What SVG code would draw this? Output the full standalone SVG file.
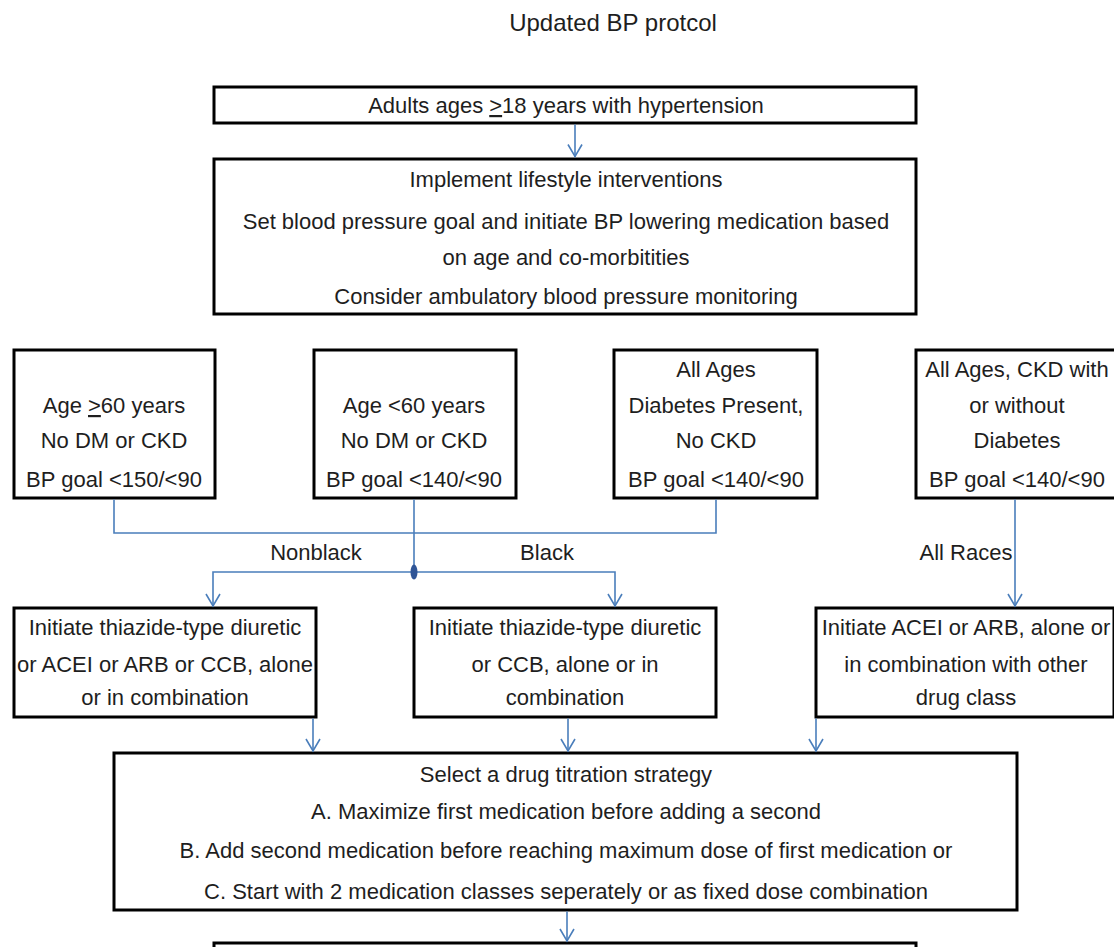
<svg xmlns="http://www.w3.org/2000/svg" width="1114" height="947" viewBox="0 0 1114 947">
<defs>
<marker id="arr" markerUnits="userSpaceOnUse" markerWidth="16" markerHeight="16" viewBox="0 0 16 16" refX="14.5" refY="8" orient="auto">
<path d="M2,1 L14,8 L2,15" fill="none" stroke="#4a7ebb" stroke-width="1.6"/>
</marker>
<style>
.box{fill:#fff;stroke:#000;stroke-width:3}
.t{font-family:"Liberation Sans",Arial,sans-serif;font-size:22px;fill:#1e1e1e;text-anchor:middle}
.title{font-size:24px}
.c{fill:none;stroke:#4a7ebb;stroke-width:1.6}
.a{marker-end:url(#arr)}
.u{text-decoration:underline}
</style>
</defs>
<rect width="1114" height="947" fill="#fff"/>
<text class="t title" x="613" y="31">Updated BP protcol</text>

<g id="n1"><rect class="box" x="214" y="87" width="702" height="36"/>
<text class="t" x="566" y="113">Adults ages <tspan class="u">&gt;</tspan>18 years with hypertension</text></g>

<g id="n2"><rect class="box" x="214" y="159" width="702" height="155"/>
<text class="t" x="566" y="187">Implement lifestyle interventions</text>
<text class="t" x="566" y="229">Set blood pressure goal and initiate BP lowering medication based</text>
<text class="t" x="566" y="265">on age and co-morbitities</text>
<text class="t" x="566" y="304">Consider ambulatory blood pressure monitoring</text></g>

<g id="n3"><rect class="box" x="14" y="350" width="201" height="148"/>
<text class="t" x="114" y="413">Age <tspan class="u">&gt;</tspan>60 years</text>
<text class="t" x="114" y="448">No DM or CKD</text>
<text class="t" x="114" y="487">BP goal &lt;150/&lt;90</text></g>

<g id="n4"><rect class="box" x="314" y="350" width="202" height="148"/>
<text class="t" x="414" y="413">Age &lt;60 years</text>
<text class="t" x="414" y="448">No DM or CKD</text>
<text class="t" x="414" y="487">BP goal &lt;140/&lt;90</text></g>

<g id="n5"><rect class="box" x="614" y="350" width="203" height="148"/>
<text class="t" x="716" y="377">All Ages</text>
<text class="t" x="716" y="413">Diabetes Present,</text>
<text class="t" x="716" y="448">No CKD</text>
<text class="t" x="716" y="487">BP goal &lt;140/&lt;90</text></g>

<g id="n6"><rect class="box" x="916" y="350" width="204" height="148"/>
<text class="t" x="1017" y="377">All Ages, CKD with</text>
<text class="t" x="1017" y="413">or without</text>
<text class="t" x="1017" y="448">Diabetes</text>
<text class="t" x="1017" y="487">BP goal &lt;140/&lt;90</text></g>

<g id="n7"><rect class="box" x="14" y="608" width="302" height="109"/>
<text class="t" x="165" y="635">Initiate thiazide-type diuretic</text>
<text class="t" x="165" y="672">or ACEI or ARB or CCB, alone</text>
<text class="t" x="165" y="705">or in combination</text></g>

<g id="n8"><rect class="box" x="414" y="608" width="302" height="109"/>
<text class="t" x="565" y="635">Initiate thiazide-type diuretic</text>
<text class="t" x="565" y="672">or CCB, alone or in</text>
<text class="t" x="565" y="705">combination</text></g>

<g id="n9"><rect class="box" x="816" y="608" width="298" height="109"/>
<text class="t" x="966" y="635">Initiate ACEI or ARB, alone or</text>
<text class="t" x="966" y="672">in combination with other</text>
<text class="t" x="966" y="705">drug class</text></g>

<g id="n10"><rect class="box" x="114" y="753" width="903" height="157"/>
<text class="t" x="566" y="782">Select a drug titration strategy</text>
<text class="t" x="566" y="819">A. Maximize first medication before adding a second</text>
<text class="t" x="566" y="858">B. Add second medication before reaching maximum dose of first medication or</text>
<text class="t" x="566" y="899">C. Start with 2 medication classes seperately or as fixed dose combination</text></g>

<g id="n11"><rect class="box" x="214" y="943" width="702" height="30"/></g>

<g id="connectors">
<path class="c a" d="M575,124.5 V157"/>
<path class="c" d="M114,499.5 V533 H716 V499.5"/>
<path class="c" d="M414,499.5 V572"/>
<path class="c a" d="M414,572 H213 V606.5"/>
<path class="c a" d="M414,572 H615 V606.5"/>
<ellipse cx="414" cy="572" rx="3.5" ry="7.5" fill="#2f5597"/>
<path class="c a" d="M1015,499.5 V606.5"/>
<path class="c a" d="M313,718.5 V751.5"/>
<path class="c a" d="M568,718.5 V751.5"/>
<path class="c a" d="M816,718.5 V751.5"/>
<path class="c a" d="M567,911.5 V941.5"/>
</g>
<text class="t" x="316" y="560">Nonblack</text>
<text class="t" x="547" y="560">Black</text>
<text class="t" x="966" y="560">All Races</text>
</svg>
